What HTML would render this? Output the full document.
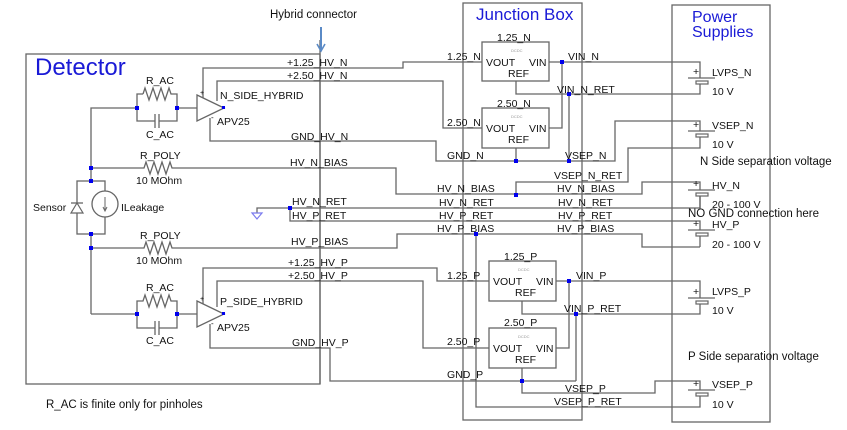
<!DOCTYPE html>
<html><head><meta charset="utf-8"><style>
html,body{margin:0;padding:0;background:#fff;}
svg{display:block;}
text{font-family:"Liberation Sans",sans-serif;font-size:10.5px;fill:#111;}
.w{fill:none;stroke:#666;stroke-width:1.3;}
.d{fill:#0000ee;}
.t{font-size:4px;fill:#999;}
.b{fill:#1a1ad6;}
.n{font-size:11.5px;}
</style></head><body>
<svg width="847" height="430" viewBox="0 0 847 430" xmlns="http://www.w3.org/2000/svg">
<rect x="26" y="54" width="294" height="330" class="w"/>
<text x="35" y="75" class="b" style="font-size:24px">Detector</text>
<rect x="463" y="3" width="119" height="417" class="w"/>
<text x="476" y="20" class="b" style="font-size:17px">Junction Box</text>
<rect x="672" y="5" width="98" height="417" class="w"/>
<text x="692" y="22" class="b" style="font-size:16px">Power</text>
<text x="692" y="37" class="b" style="font-size:16px">Supplies</text>
<line x1="320" y1="40" x2="320" y2="384" class="w"/>
<text x="270" y="18" class="n">Hybrid connector</text>
<line x1="321" y1="27" x2="321" y2="50" stroke="#5a8ac6" stroke-width="2"/>
<polyline points="317,44 321,51 325,44" fill="none" stroke="#5a8ac6" stroke-width="1.6"/>

<polyline class="w" points="91,168 91,108 137,108"/>
<polyline class="w" points="137,108 137,94 143,94"/>
<polyline class="w" points="143,94 145,88 149,100 153,88 157,100 161,88 165,100 169,88 171,94 177,94 177,121 159,121"/>
<polyline class="w" points="155,121 137,121 137,108"/>
<line x1="155" y1="114" x2="155" y2="128" class="w"/><line x1="159" y1="114" x2="159" y2="128" class="w"/>
<line x1="177" y1="108" x2="197" y2="108" class="w"/>
<polygon points="197,95 224,108 197,121" fill="#fff" stroke="#666" stroke-width="1.3"/>
<polyline class="w" points="203,98 203,68 403,68 403,62 482,62"/>
<polyline class="w" points="217,101 217,81 443,81 443,128 482,128"/>
<polyline class="w" points="210,118 210,141 436,141 436,161 615,161 615,121 700,121 700,131"/>
<text x="200" y="95" style="font-size:7px">+</text><text x="211" y="120" style="font-size:8px">-</text>
<rect x="222" y="106" width="3" height="3" class="d"/>
<text x="146" y="84">R_AC</text><text x="146" y="138">C_AC</text>
<text x="220" y="99">N_SIDE_HYBRID</text><text x="217" y="125">APV25</text>

<polyline class="w" points="91,168 144,168 146,162 150,174 154,162 158,174 162,162 166,174 170,162 172,168 396,168 396,194 642,194 642,182 700,182 700,190"/>
<text x="140" y="159">R_POLY</text><text x="136" y="184">10 MOhm</text>

<line x1="91" y1="168" x2="91" y2="181" class="w"/>
<rect x="77" y="181" width="28" height="53" class="w"/>
<polygon points="77,203 71,213 83,213" fill="#fff" stroke="#666" stroke-width="1.2"/>
<line x1="71" y1="203" x2="83" y2="203" class="w"/>
<circle cx="105" cy="204" r="13" fill="#fff" stroke="#666" stroke-width="1.3"/>
<line x1="105" y1="197" x2="105" y2="210" stroke="#666"/>
<polyline points="103,207 105,211 107,207" fill="none" stroke="#666"/>
<text x="33" y="211">Sensor</text><text x="121" y="211">ILeakage</text>

<line x1="91" y1="234" x2="91" y2="314" class="w"/>
<polyline class="w" points="91,248 144,248 146,242 150,254 154,242 158,254 162,242 166,254 170,242 172,248 397,248 397,234 642,234 642,247 700,247"/>
<text x="140" y="239">R_POLY</text><text x="136" y="264">10 MOhm</text>

<line x1="91" y1="314" x2="137" y2="314" class="w"/>
<polyline class="w" points="137,314 137,301 143,301 145,295 149,307 153,295 157,307 161,295 165,307 169,295 171,301 177,301 177,328 159,328"/>
<polyline class="w" points="155,328 137,328 137,314"/>
<line x1="155" y1="321" x2="155" y2="335" class="w"/><line x1="159" y1="321" x2="159" y2="335" class="w"/>
<line x1="177" y1="314" x2="197" y2="314" class="w"/>
<polygon points="197,301 224,314 197,327" fill="#fff" stroke="#666" stroke-width="1.3"/>
<polyline class="w" points="203,304 203,268 437,268 437,281 489,281"/>
<polyline class="w" points="217,307 217,281 423,281 423,348 489,348"/>
<polyline class="w" points="210,324 210,348 330,348 330,381 576,381"/>
<text x="200" y="301" style="font-size:7px">+</text><text x="211" y="326" style="font-size:8px">-</text>
<rect x="222" y="312" width="3" height="3" class="d"/>
<text x="146" y="291">R_AC</text><text x="146" y="344">C_AC</text>
<text x="220" y="305">P_SIDE_HYBRID</text><text x="217" y="331">APV25</text>

<polyline class="w" points="257,213 257,208 700,208 700,196"/>
<polyline class="w" points="290,208 290,221 700,221 700,230"/>
<polygon points="252,213 262,213 257,219" fill="none" stroke="#7a7aee" stroke-width="1.2"/>

<rect x="482" y="42" width="67" height="39" class="w"/>
<rect x="482" y="108" width="67" height="40" class="w"/>
<polyline class="w" points="549,62 700,62 700,78"/>
<polyline class="w" points="562,62 562,128 549,128"/>
<polyline class="w" points="516,81 516,94 700,94 700,84"/>
<polyline class="w" points="569,94 569,161"/>
<polyline class="w" points="516,148 516,161"/>
<polyline class="w" points="700,137 700,148 628,148 628,182 516,182 516,195"/>

<rect x="489" y="261" width="67" height="40" class="w"/>
<rect x="489" y="328" width="67" height="40" class="w"/>
<polyline class="w" points="556,281 700,281 700,298"/>
<polyline class="w" points="569,281 569,348 556,348"/>
<polyline class="w" points="522,301 522,314 700,314 700,304"/>
<polyline class="w" points="576,314 576,381"/>
<polyline class="w" points="522,368 522,393 655,393 655,381 700,381 700,390"/>
<polyline class="w" points="476,234 476,407 700,407 700,396"/>
<line x1="700" y1="196" x2="700" y2="208" class="w"/>
<line x1="700" y1="236" x2="700" y2="247" class="w"/>

<g stroke="#666" stroke-width="1.2" fill="#fff">
<line x1="688" y1="78" x2="715" y2="78"/><rect x="696" y="81" width="12" height="3"/>
<line x1="688" y1="131" x2="715" y2="131"/><rect x="696" y="134" width="12" height="3"/>
<line x1="688" y1="190" x2="715" y2="190"/><rect x="696" y="193" width="12" height="3"/>
<line x1="688" y1="230" x2="715" y2="230"/><rect x="696" y="233" width="12" height="3"/>
<line x1="688" y1="298" x2="715" y2="298"/><rect x="696" y="301" width="12" height="3"/>
<line x1="688" y1="390" x2="715" y2="390"/><rect x="696" y="393" width="12" height="3"/>
</g>
<g style="font-size:7px"><text x="693" y="75">+</text><text x="693" y="128">+</text><text x="693" y="187">+</text><text x="693" y="227">+</text><text x="693" y="295">+</text><text x="693" y="387">+</text></g>
<text x="712" y="76">LVPS_N</text><text x="712" y="95">10 V</text>
<text x="712" y="129">VSEP_N</text><text x="712" y="148">10 V</text>
<text x="700" y="165" class="n">N Side separation voltage</text>
<text x="712" y="189">HV_N</text><text x="712" y="208">20 - 100 V</text>
<text x="688" y="217" class="n">NO GND connection here</text>
<text x="712" y="228">HV_P</text><text x="712" y="248">20 - 100 V</text>
<text x="712" y="295">LVPS_P</text><text x="712" y="314">10 V</text>
<text x="688" y="360" class="n">P Side separation voltage</text>
<text x="712" y="388">VSEP_P</text><text x="712" y="408">10 V</text>
<text x="46" y="408" class="n">R_AC is finite only for pinholes</text>

<g class="d">
<rect x="89" y="166" width="4" height="4"/><rect x="89" y="179" width="4" height="4"/><rect x="89" y="232" width="4" height="4"/><rect x="89" y="246" width="4" height="4"/>
<rect x="135" y="106" width="4" height="4"/><rect x="175" y="106" width="4" height="4"/>
<rect x="135" y="312" width="4" height="4"/><rect x="175" y="312" width="4" height="4"/>
<rect x="288" y="206" width="4" height="4"/>
<rect x="560" y="60" width="4" height="4"/><rect x="567" y="92" width="4" height="4"/>
<rect x="514" y="159" width="4" height="4"/><rect x="567" y="159" width="4" height="4"/>
<rect x="514" y="193" width="4" height="4"/><rect x="474" y="232" width="4" height="4"/>
<rect x="567" y="279" width="4" height="4"/><rect x="574" y="312" width="4" height="4"/>
<rect x="520" y="379" width="4" height="4"/>
</g>

<text x="287" y="66">+1.25_HV_N</text><text x="287" y="79">+2.50_HV_N</text>
<text x="291" y="140">GND_HV_N</text><text x="290" y="166">HV_N_BIAS</text>
<text x="292" y="205">HV_N_RET</text><text x="292" y="219">HV_P_RET</text>
<text x="291" y="245">HV_P_BIAS</text>
<text x="288" y="266">+1.25_HV_P</text><text x="288" y="279">+2.50_HV_P</text>
<text x="292" y="346">GND_HV_P</text>
<text x="447" y="60">1.25_N</text><text x="447" y="126">2.50_N</text>
<text x="447" y="159">GND_N</text><text x="565" y="159">VSEP_N</text>
<text x="568" y="60">VIN_N</text><text x="557" y="93">VIN_N_RET</text>
<text x="554" y="179">VSEP_N_RET</text>
<text x="437" y="192">HV_N_BIAS</text><text x="557" y="192">HV_N_BIAS</text>
<text x="439" y="206">HV_N_RET</text><text x="558" y="206">HV_N_RET</text>
<text x="439" y="219">HV_P_RET</text><text x="558" y="219">HV_P_RET</text>
<text x="437" y="232">HV_P_BIAS</text><text x="557" y="232">HV_P_BIAS</text>
<text x="447" y="279">1.25_P</text><text x="447" y="345">2.50_P</text>
<text x="576" y="279">VIN_P</text><text x="564" y="312">VIN_P_RET</text>
<text x="447" y="378">GND_P</text><text x="565" y="392">VSEP_P</text><text x="554" y="405">VSEP_P_RET</text>
<text x="497" y="41">1.25_N</text><text x="497" y="107">2.50_N</text>
<text x="504" y="260">1.25_P</text><text x="504" y="326">2.50_P</text>
<text x="486" y="66">VOUT</text><text x="529" y="66">VIN</text><text x="508" y="77">REF</text><text x="511" y="52" class="t">DCDC</text>
<text x="486" y="132">VOUT</text><text x="529" y="132">VIN</text><text x="508" y="143">REF</text><text x="511" y="118" class="t">DCDC</text>
<text x="493" y="285">VOUT</text><text x="536" y="285">VIN</text><text x="515" y="296">REF</text><text x="518" y="271" class="t">DCDC</text>
<text x="493" y="352">VOUT</text><text x="536" y="352">VIN</text><text x="515" y="363">REF</text><text x="518" y="338" class="t">DCDC</text>
</svg>
</body></html>
